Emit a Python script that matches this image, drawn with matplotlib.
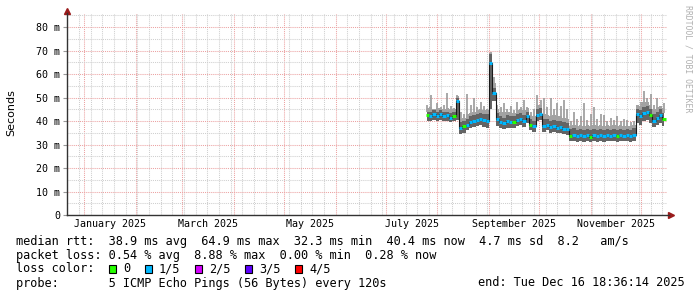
import numpy as np
import pandas as pd
import matplotlib
matplotlib.use("Agg")
import matplotlib.pyplot as plt
import matplotlib.dates as mdates
from matplotlib.patches import Rectangle

# samples, one every 2 days starting 2025-07-26 (ms)
first_day = "2025-07-26"
median_ms = [42.5, 42.0, 42.8, 42.3, 42.8, 42.0, 42.5, 41.5, 42.0, 48.5,
             37.2, 37.8, 38.5, 39.5, 40.0, 40.5, 41.0, 40.5, 40.0, 64.9,
             52.0, 41.0, 39.5, 39.0, 40.0, 39.5, 39.4, 40.5, 41.0, 40.0,
             42.0, 38.5, 37.8, 42.5, 43.0, 38.0, 38.3, 37.5, 38.0, 37.2,
             37.5, 36.8, 36.5, 33.8, 34.0, 33.5, 34.0, 33.5, 34.0, 33.4,
             34.0, 33.6, 34.0, 33.5, 34.2, 33.8, 34.0, 33.5, 34.2, 33.8,
             34.0, 33.6, 34.2, 42.8, 42.0, 43.5, 44.0, 42.5, 40.0, 41.5,
             42.5, 41.0]
# bottom of the smoke
lo_ms = [40.0, 40.0, 40.5, 40.0, 40.5, 40.0, 40.0, 39.5, 40.0, 40.5,
         34.5, 35.0, 36.0, 37.0, 37.5, 38.0, 38.5, 37.5, 37.0, 45.0,
         48.5, 38.0, 37.0, 36.5, 37.0, 37.0, 37.0, 38.0, 38.5, 37.5,
         39.0, 36.0, 35.5, 40.0, 40.5, 35.5, 36.0, 35.0, 35.5, 35.0,
         35.0, 34.5, 34.0, 31.5, 31.5, 31.0, 31.5, 31.0, 31.5, 31.0,
         31.5, 31.0, 31.5, 31.0, 31.5, 31.3, 31.5, 31.0, 31.5, 31.3,
         31.5, 31.0, 31.5, 39.0, 38.5, 40.0, 40.5, 39.0, 37.5, 38.5,
         39.0, 38.0]
# top of the dark smoke around the median
dark_hi_ms = [44.0, 44.0, 44.5, 44.0, 44.5, 44.0, 44.0, 43.5, 44.0, 50.0,
              39.5, 40.0, 41.0, 42.0, 42.5, 43.0, 43.5, 43.0, 43.0, 68.5,
              54.0, 43.5, 42.0, 41.5, 42.5, 42.0, 42.0, 43.0, 43.5, 42.5,
              44.0, 41.0, 40.0, 45.0, 45.5, 41.0, 41.0, 40.0, 40.5, 40.0,
              40.0, 39.5, 39.0, 36.5, 37.0, 36.0, 36.5, 36.0, 36.5, 36.0,
              36.5, 36.0, 36.5, 36.0, 36.5, 36.0, 36.5, 36.0, 36.5, 36.0,
              36.5, 36.0, 37.0, 45.0, 44.5, 46.0, 46.5, 45.0, 43.0, 44.0,
              45.0, 43.5]
# top of the continuous light smoke
body_ms = [45.5, 46.0, 45.0, 45.5, 45.5, 45.0, 45.5, 45.0, 45.0, 50.5,
           41.0, 41.5, 43.0, 43.5, 44.0, 44.5, 45.0, 44.5, 44.5, 69.0,
           56.0, 45.0, 44.0, 44.0, 44.0, 44.0, 43.5, 44.5, 45.0, 44.5,
           45.5, 42.5, 42.0, 47.0, 47.0, 43.0, 42.5, 42.0, 42.5, 42.0,
           42.0, 41.5, 41.0, 38.0, 38.5, 38.0, 38.5, 38.0, 38.5, 38.0,
           38.5, 38.0, 38.5, 38.0, 38.5, 38.0, 38.5, 38.0, 38.5, 38.0,
           38.0, 38.0, 38.5, 47.0, 46.5, 48.0, 48.0, 47.0, 45.0, 46.0,
           46.5, 45.5]
# highest ping (thin spikes)
hi_ms = [47.0, 51.0, 45.0, 47.5, 46.0, 47.0, 52.0, 46.5, 45.5, 51.0,
         44.0, 43.0, 51.5, 47.0, 50.0, 46.0, 48.0, 46.5, 45.0, 69.3,
         58.7, 47.0, 46.0, 47.5, 45.0, 46.5, 44.5, 48.0, 46.0, 48.9,
         46.0, 44.0, 45.0, 51.0, 49.0, 49.6, 46.0, 50.0, 45.0, 47.5,
         46.5, 49.0, 45.0, 40.0, 44.0, 41.0, 42.0, 47.5, 40.5, 43.0,
         46.0, 41.0, 43.0, 42.5, 40.0, 41.5, 40.5, 42.0, 40.0, 41.0,
         40.5, 39.5, 40.0, 46.5, 48.0, 53.0, 50.0, 51.7, 47.0, 49.9,
         46.0, 47.5]
# loss bucket per sample: 0 = no loss, 1 = 1/5
loss = [0, 1, 1, 1, 1, 1, 1, 1, 0, 1,
        1, 0, 1, 1, 1, 1, 1, 1, 1, 1,
        1, 1, 1, 1, 1, 1, 0, 1, 1, 1,
        1, 0, 1, 1, 1, 1, 1, 1, 1, 1,
        1, 1, 1, 0, 1, 1, 1, 1, 1, 0,
        1, 1, 1, 1, 1, 1, 1, 0, 1, 1,
        1, 1, 1, 1, 1, 1, 1, 0, 1, 1,
        1, 0]

loss_labels = ["0", "1/5", "2/5", "3/5", "4/5"]
loss_colors = ["#26ff00", "#00b8ff", "#d400ff", "#5e00ff", "#ff0000"]
month_labels = ["January 2025", "March 2025", "May 2025", "July 2025",
                "September 2025", "November 2025"]
y_ticks = [0, 10, 20, 30, 40, 50, 60, 70, 80]

end_time = pd.Timestamp("2025-12-16 18:36:14")
start_time = end_time - pd.Timedelta(days=360)

W, H = 697, 297
mono = "DejaVu Sans Mono"

fig = plt.figure(figsize=(W / 100, H / 100), dpi=100)
ax = fig.add_axes([67 / W, 82 / H, 600 / W, 202 / H])

dates = pd.date_range(first_day, periods=len(median_ms), freq="2D")
half = pd.Timedelta(days=1)

# smoke: thin light spikes, light body, dark band around the median
ax.vlines(dates, dark_hi_ms, hi_ms, color="#999999", lw=1.2, zorder=3)
ax.fill_between(dates, dark_hi_ms, body_ms, step="mid", color="#a2a2a2", lw=0, zorder=3)
ax.fill_between(dates, lo_ms, dark_hi_ms, step="mid", color="#646464", lw=0, zorder=3)
ax.step(dates, median_ms, where="mid", color="#1a1a1a", lw=0.8, zorder=4)
ax.hlines(median_ms, dates - half, dates + half,
          colors=[loss_colors[b] for b in loss], lw=2.2, zorder=5)

ax.set_xlim(start_time, end_time)
ax.set_ylim(0, 86)

# grid: months in red, weeks/5ms in grey
month_starts = pd.date_range("2025-01-01", "2025-12-01", freq="MS")
weeks = pd.date_range(start_time.normalize(), end_time, freq="W-SUN")
ax.set_xticks(month_starts)
ax.set_xticks(weeks, minor=True)
ax.set_xticklabels([])
ax.set_yticks(y_ticks)
ax.set_yticks(np.arange(5, 86, 10), minor=True)
ax.set_yticklabels([("%d m" % v) if v else "0" for v in y_ticks],
                   family=mono, fontsize=7.2)
ax.grid(True, which="minor", color="#cfcfcf", ls=(0, (1, 1)), lw=0.75, zorder=1)
ax.grid(True, which="major", color="#eca2a2", ls=(0, (1, 1)), lw=0.75, zorder=2)
ax.tick_params(axis="y", which="major", length=3, color="#999999", pad=2)
ax.tick_params(axis="y", which="minor", length=0)
ax.tick_params(axis="x", which="both", length=0)

# month labels sit in the middle of each month
for lab in month_labels:
    m0 = pd.Timestamp(lab)
    mid = m0 + (m0 + pd.offsets.MonthBegin(1) - m0) / 2
    ax.text(mid, -0.047, lab, transform=ax.get_xaxis_transform(),
            ha="center", va="center", family=mono, fontsize=7.2)

for s in ["top", "right"]:
    ax.spines[s].set_visible(False)
for s in ["left", "bottom"]:
    ax.spines[s].set_color("#333333")
    ax.spines[s].set_linewidth(1)
ax.spines["bottom"].set_bounds(mdates.date2num(start_time),
                               mdates.date2num(end_time + pd.Timedelta(days=1)))
ax.spines["bottom"].set_zorder(6)

# axis arrows
ax.plot([0], [1.01], marker="^", color="#9a1b1b", ms=4.5, clip_on=False,
        transform=ax.transAxes)
ax.plot([1.007], [0], marker=">", color="#9a1b1b", ms=4.5, clip_on=False,
        transform=ax.transAxes)

fig.text(11 / W, 1 - 113 / H, "Seconds", rotation=90, ha="center", va="center",
         fontsize=8)
fig.text(688 / W, 1 - 59 / H, "RRDTOOL / TOBI OETIKER", rotation=-90,
         ha="center", va="center", color="#b0b0b0", family=mono, fontsize=5.9)

# legend block under the graph
cw = 7.15
def put(col, y, s):
    fig.text((16 + col * cw) / W, 1 - y / H, s, ha="left", va="center",
             family=mono, fontsize=8.55)

put(0, 241, "median rtt:  38.9 ms avg  64.9 ms max  32.3 ms min  40.4 ms now  4.7 ms sd  8.2   am/s")
put(0, 255, "packet loss: 0.54 % avg  8.88 % max  0.00 % min  0.28 % now")
put(0, 269, "loss color:")
box_cols = [13, 18, 25, 32, 39]
for c, lab, col in zip(box_cols, loss_labels, loss_colors):
    fig.patches.append(Rectangle(((16 + c * cw) / W, 1 - 273 / H), 7 / W, 8 / H,
                                 facecolor=col, edgecolor="black", lw=0.8,
                                 transform=fig.transFigure, figure=fig))
    put(c + 2, 269, lab)
put(0, 283, "probe:       5 ICMP Echo Pings (56 Bytes) every 120s")
fig.text(478 / W, 1 - 283 / H, "end: Tue Dec 16 18:36:14 2025", ha="left",
         va="center", family=mono, fontsize=8.55)

fig.savefig("out.png", dpi=100)
